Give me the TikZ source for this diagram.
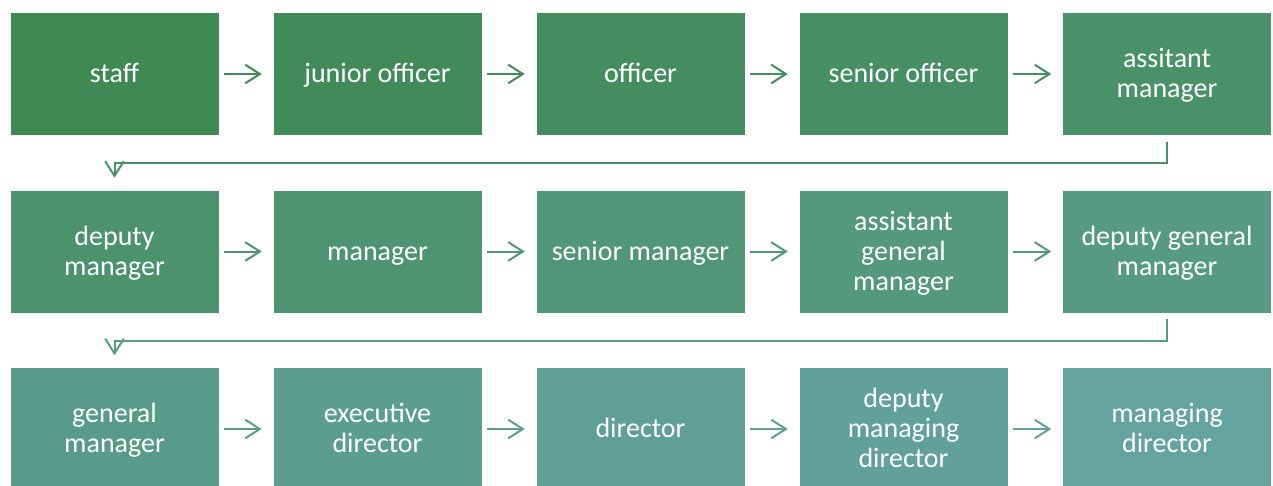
\documentclass[tikz,border=0pt]{standalone}
\usepackage{fontspec}
\setmainfont{Carlito}
\usepackage{tikz}
\usetikzlibrary{arrows.meta}
\definecolor{head}{HTML}{3E8954}
\definecolor{tail}{HTML}{64A39E}
\newcommand\rows[1]{\begin{tabular}[t]{@{}c@{}}#1\end{tabular}}
\tikzset{
  box/.style={rectangle, draw=white, line width=0.4pt, minimum width=156.75pt, minimum height=92.25pt,
    text=white, inner sep=2pt, font=\fontsize{21}{22.5}\selectfont,
    execute at begin node={\rule{0pt}{19.5pt}}, execute at end node=\strut},
  link/.style={line width=1.5pt, -{Straight Barb[length=11pt,width=14pt]}},
  elbow/.style={line width=1.5pt, -{Straight Barb[length=11pt,width=14pt]}},
}
\begin{document}
\begin{tikzpicture}[x=0.75pt,y=-0.75pt]
  \useasboundingbox (0,0) rectangle (1273,485);

  % first row
  \node[box,fill=tail!0!head]  (st) at (114.5,74) {staff};
  \node[box,fill=tail!7!head]  (jo) at (377.5,74) {junior officer};
  \node[box,fill=tail!14!head] (of) at (640.5,74) {officer};
  \node[box,fill=tail!21!head] (so) at (903.5,74) {senior officer};
  \node[box,fill=tail!29!head] (am) at (1167,74) {\rows{assitant\\manager}};

  % second row
  \node[box,fill=tail!36!head] (dm)  at (114.5,251.5) {\rows{deputy\\manager}};
  \node[box,fill=tail!43!head] (ma)  at (377.5,251.5) {manager};
  \node[box,fill=tail!50!head] (sm)  at (640.5,251.5) {senior manager};
  \node[box,fill=tail!57!head] (agm) at (903.5,251.5) {\rows{assistant\\general\\manager}};
  \node[box,fill=tail!64!head] (dgm) at (1167,251.5) {\rows{deputy general\\manager}};

  % third row
  \node[box,fill=tail!71!head]  (gm)  at (114.5,429) {\rows{general\\manager}};
  \node[box,fill=tail!79!head]  (ed)  at (377.5,429) {\rows{executive\\director}};
  \node[box,fill=tail!86!head]  (di)  at (640.5,429) {director};
  \node[box,fill=tail!93!head]  (dmd) at (903.5,429) {\rows{deputy\\managing\\director}};
  \node[box,fill=tail!100!head] (md)  at (1167,429) {\rows{managing\\director}};

  % arrows inside the rows
  \draw[link,draw=tail!4!head]  ([xshift=3.75pt]st.east) -- ([xshift=-8.25pt]jo.west);
  \draw[link,draw=tail!11!head] ([xshift=3.75pt]jo.east) -- ([xshift=-8.25pt]of.west);
  \draw[link,draw=tail!18!head] ([xshift=3.75pt]of.east) -- ([xshift=-8.25pt]so.west);
  \draw[link,draw=tail!25!head] ([xshift=3.75pt]so.east) -- ([xshift=-8.25pt]am.west);
  \draw[link,draw=tail!39!head] ([xshift=3.75pt]dm.east) -- ([xshift=-8.25pt]ma.west);
  \draw[link,draw=tail!46!head] ([xshift=3.75pt]ma.east) -- ([xshift=-8.25pt]sm.west);
  \draw[link,draw=tail!54!head] ([xshift=3.75pt]sm.east) -- ([xshift=-8.25pt]agm.west);
  \draw[link,draw=tail!61!head] ([xshift=3.75pt]agm.east) -- ([xshift=-8.25pt]dgm.west);
  \draw[link,draw=tail!75!head] ([xshift=3.75pt]gm.east) -- ([xshift=-8.25pt]ed.west);
  \draw[link,draw=tail!82!head] ([xshift=3.75pt]ed.east) -- ([xshift=-8.25pt]di.west);
  \draw[link,draw=tail!89!head] ([xshift=3.75pt]di.east) -- ([xshift=-8.25pt]dmd.west);
  \draw[link,draw=tail!96!head] ([xshift=3.75pt]dmd.east) -- ([xshift=-8.25pt]md.west);

  % bends to the next row
  \draw[elbow,draw=tail!32!head] ([yshift=-4.5pt]am.south) -- ++(0,21) -| ([yshift=9pt]dm.north);
  \draw[elbow,draw=tail!68!head] ([yshift=-4.5pt]dgm.south) -- ++(0,22) -| ([yshift=9pt]gm.north);
\end{tikzpicture}
\end{document}
